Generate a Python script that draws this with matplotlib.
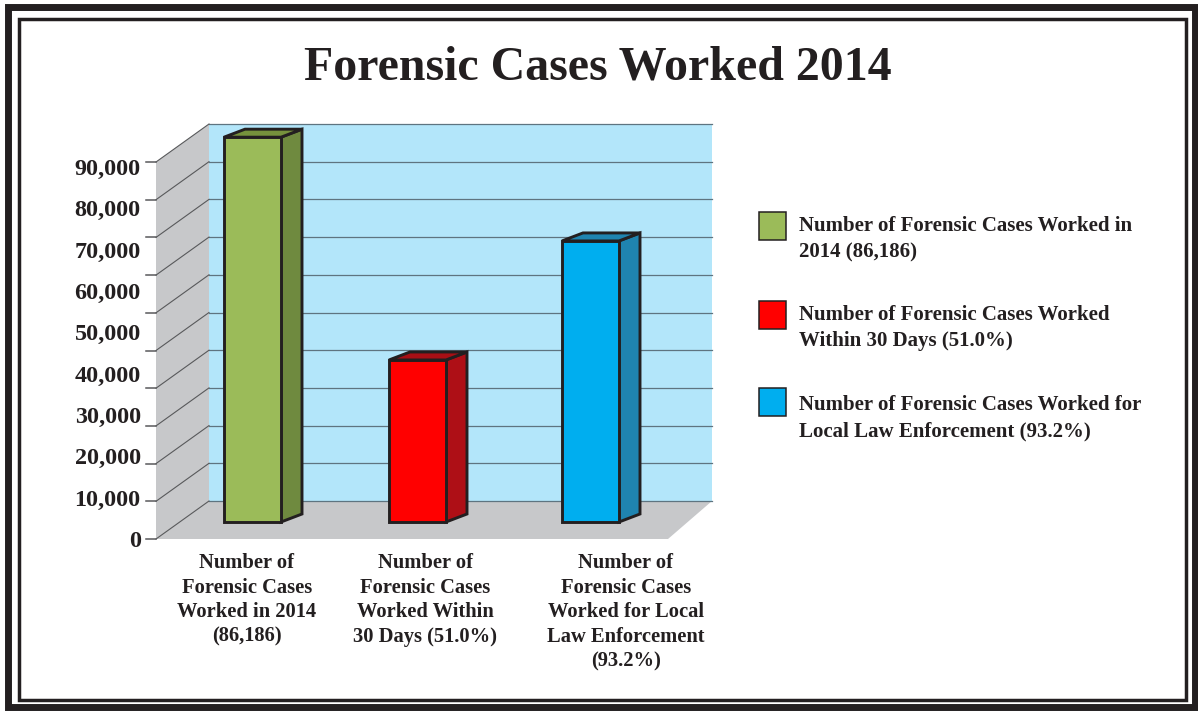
import matplotlib
matplotlib.use('Agg')
import matplotlib.pyplot as plt
from matplotlib.patches import Polygon, Rectangle

plt.rcParams['font.family'] = ['Liberation Serif', 'DejaVu Serif']
plt.rcParams['font.weight'] = 'bold'

title = 'Forensic Cases Worked 2014'

# values as drawn, read against the axis labels
bar_values = [93100, 39200, 68000]
bar_colors = ['#9BBB59', '#FF0000', '#00AEEF']
side_colors = ['#6F8A3F', '#AE0F16', '#1F84B0']
top_colors = ['#76923C', '#A80F15', '#1F84B0']

category_labels = [
    'Number of\nForensic Cases\nWorked in 2014\n(86,186)',
    'Number of\nForensic Cases\nWorked Within\n30 Days (51.0%)',
    'Number of\nForensic Cases\nWorked for Local\nLaw Enforcement\n(93.2%)',
]
legend_labels = [
    'Number of Forensic Cases Worked in\n2014 (86,186)',
    'Number of Forensic Cases Worked\nWithin 30 Days (51.0%)',
    'Number of Forensic Cases Worked for\nLocal Law Enforcement (93.2%)',
]
y_ticks = [0, 10000, 20000, 30000, 40000, 50000, 60000, 70000, 80000, 90000]

ink = '#231F20'
W, H = 1198, 711

fig = plt.figure(figsize=(W / 100, H / 100), dpi=100, facecolor='white')

# background layer in pixels: frame, walls, floor, gridlines
bg = fig.add_axes([0, 0, 1, 1])
bg.set_xlim(0, W)
bg.set_ylim(H, 0)
bg.axis('off')

bg.add_patch(Rectangle((7.5, 7), W - 11, H - 11.5, fill=False, ec=ink, lw=5))
bg.add_patch(Rectangle((19, 18.5), 1167, 681, fill=False, ec=ink, lw=2.5))

wall_l, wall_r, wall_t, wall_b = 209, 712, 124, 501
front_l, front_b, front_r = 156, 539, 668
grid_step = 37.7

bg.add_patch(Rectangle((wall_l, wall_t), wall_r - wall_l, wall_b - wall_t, fc='#B3E6FA', ec='none'))
bg.add_patch(Polygon([(front_l, front_b), (wall_l, wall_b), (wall_r, wall_b), (front_r, front_b)],
                     fc='#C7C8CA', ec='none'))
bg.add_patch(Polygon([(front_l, front_b), (wall_l, wall_b), (wall_l, wall_t), (front_l, wall_t + 38)],
                     fc='#C7C8CA', ec='none'))

for i in range(11):
    back_y = wall_t + i * grid_step
    bg.plot([wall_l, wall_r], [back_y, back_y], color='#5E7480', lw=0.9)
    bg.plot([front_l, wall_l], [back_y + 38, back_y], color='#58595B', lw=0.8)
    bg.plot([146, front_l], [back_y + 38, back_y + 38], color='#58595B', lw=1.1)

# chart layer: value 0 sits at pixel 539, 90,000 at pixel 167
ax = fig.add_axes([front_l / W, 1 - front_b / H, (wall_r - front_l) / W, (front_b - 167) / H])
ax.patch.set_alpha(0)
ax.set_xlim(front_l, wall_r)
ax.set_ylim(0, 90000)
for s in ax.spines.values():
    s.set_visible(False)

units = 90000 / (front_b - 167)
base = 17 * units
depth_x, depth_y = 21, 8 * units
bar_x = [252.5, 417.5, 590.5]
bar_w = 57

for x, v, c, sc, tc in zip(bar_x, bar_values, bar_colors, side_colors, top_colors):
    l, r = x - bar_w / 2, x + bar_w / 2
    t = base + v
    ax.add_patch(Polygon([(r, base), (r + depth_x, base + depth_y), (r + depth_x, t + depth_y), (r, t)],
                         fc=sc, ec=ink, lw=2.1, joinstyle='miter', clip_on=False))
    ax.add_patch(Polygon([(l, t), (l + depth_x, t + depth_y), (r + depth_x, t + depth_y), (r, t)],
                         fc=tc, ec=ink, lw=2.1, joinstyle='miter', clip_on=False))
    ax.bar(x, v, bar_w, bottom=base, color=c, edgecolor=ink, linewidth=2.1, clip_on=False)

ax.set_yticks(y_ticks)
ax.set_yticklabels([f'{v:,}' for v in y_ticks], fontsize=17.4, color=ink)
ax.tick_params(axis='y', length=0, pad=11)
ax.set_xticks([247, 425, 626])
ax.set_xticklabels(category_labels, fontsize=14.8, color=ink, linespacing=1.31, va='top')
ax.tick_params(axis='x', length=0, pad=10)

bg.text(598, 68, title, fontsize=34.5, color=ink, ha='center', va='center')

# legend
box_y = [212, 301, 388]
text_y = [239, 328, 418]
for y, ty, c, lab in zip(box_y, text_y, bar_colors, legend_labels):
    bg.add_patch(Rectangle((759, y), 27, 28, fc=c, ec=ink, lw=1.1))
    bg.text(799, ty, lab, fontsize=15.05, color=ink, ha='left', va='center', linespacing=1.42)

fig.savefig('out.png', dpi=100)
